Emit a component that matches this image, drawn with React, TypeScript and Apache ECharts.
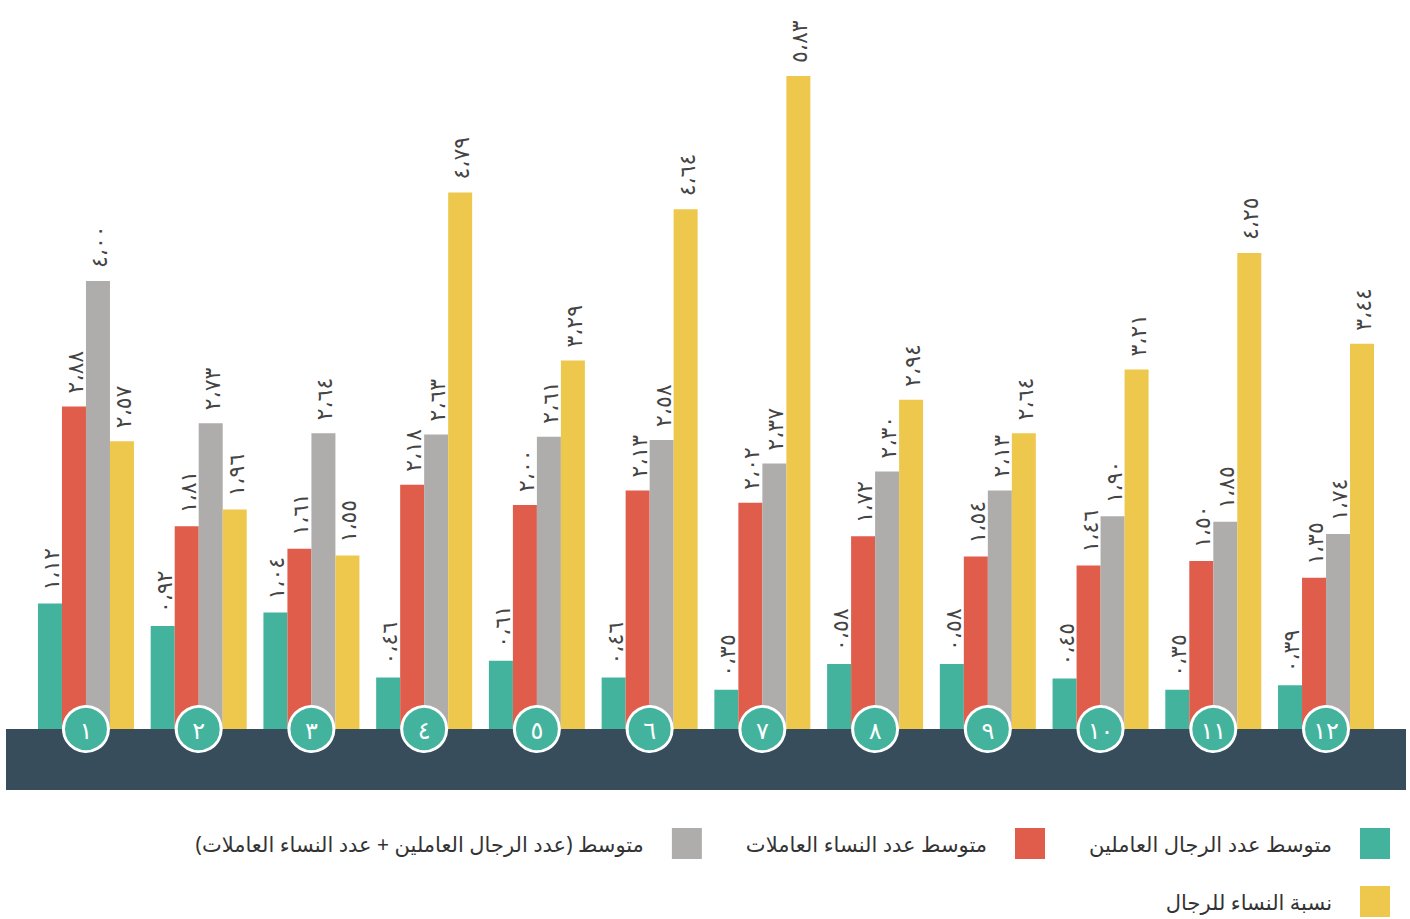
import React, { useEffect, useRef } from "react";
import * as echarts from "echarts";

const categories = ["١", "٢", "٣", "٤", "٥", "٦", "٧", "٨", "٩", "١٠", "١١", "١٢"];
const menAvg = [1.12, 0.92, 1.04, 0.46, 0.61, 0.46, 0.35, 0.58, 0.58, 0.45, 0.35, 0.39];
const womenAvg = [2.88, 1.81, 1.61, 2.18, 2.0, 2.13, 2.02, 1.72, 1.54, 1.46, 1.5, 1.35];
const totalAvg = [4.0, 2.73, 2.64, 2.63, 2.61, 2.58, 2.37, 2.3, 2.13, 1.9, 1.85, 1.74];
const ratio = [2.57, 1.96, 1.55, 4.79, 3.29, 4.64, 5.83, 2.94, 2.64, 3.21, 4.25, 3.44];

const seriesNames = [
  "متوسط عدد الرجال العاملين",
  "متوسط عدد النساء العاملات",
  "\u200Fمتوسط (عدد الرجال العاملين + عدد النساء العاملات)\u200F",
  "نسبة النساء للرجال",
];
const colors = ["#44b39d", "#e05c4b", "#aeadab", "#eec84d"];

const arDigits = "٠١٢٣٤٥٦٧٨٩";
const toArabic = (v: number) =>
  v
    .toFixed(2)
    .replace(".", "،")
    .replace(/[0-9]/g, (d) => arDigits[Number(d)]);

const FONT = "'Noto Sans', 'DejaVu Sans', sans-serif";

export default function App() {
  const ref = useRef<HTMLDivElement>(null);
  useEffect(() => {
    if (!ref.current) return;
    const chart = echarts.init(ref.current, undefined, { renderer: "svg" });
    const data = [menAvg, womenAvg, totalAvg, ratio];
    const barSeries = data.map((vals, i) => ({
      name: seriesNames[i],
      type: "bar",
      data: vals,
      barWidth: 24,
      barGap: "0%",
      z: 2,
      itemStyle: { color: colors[i] },
      label: {
        show: true,
        position: "top",
        rotate: 90,
        align: "left",
        verticalAlign: "middle",
        distance: 13,
        color: "#444",
        fontSize: 22,
        fontFamily: FONT,
        formatter: (p: any) => toArabic(p.value),
      },
    }));
    const legendText = {
      fontSize: 21,
      color: "#333",
      fontFamily: FONT,
      padding: [0, 23, 0, 0],
    };
    chart.setOption({
      animation: false,
      textStyle: { fontFamily: FONT },
      grid: { left: 29.6, right: 27.6, top: 57, bottom: 190 },
      xAxis: {
        type: "category",
        data: categories,
        axisLine: { show: false },
        axisTick: { show: false },
        axisLabel: { show: false },
      },
      yAxis: {
        type: "value",
        min: 0,
        max: 6,
        show: false,
        splitLine: { show: false },
      },
      legend: [
        {
          data: [seriesNames[2], seriesNames[1], seriesNames[0]],
          right: 15,
          top: 823,
          align: "right",
          itemWidth: 30,
          itemHeight: 31,
          itemGap: 44,
          icon: "rect",
          textStyle: legendText,
        },
        {
          data: [seriesNames[3]],
          right: 15,
          top: 881,
          align: "right",
          itemWidth: 30,
          itemHeight: 31,
          icon: "rect",
          textStyle: legendText,
        },
      ],
      graphic: [
        {
          type: "rect",
          z: 1,
          shape: { x: 6, y: 729, width: 1400, height: 61 },
          style: { fill: "#374d5c" },
        },
      ],
      series: [
        ...barSeries,
        {
          type: "scatter",
          data: categories.map(() => 0),
          symbol: "circle",
          symbolSize: 45,
          clip: false,
          z: 10,
          silent: true,
          itemStyle: { color: "#44b39d", borderColor: "#ffffff", borderWidth: 3, opacity: 1 },
          label: {
            show: true,
            position: "inside",
            color: "#ffffff",
            fontSize: 24,
            fontFamily: FONT,
            formatter: (p: any) => categories[p.dataIndex],
          },
        },
      ],
    });
    return () => chart.dispose();
  }, []);
  return (
    <div
      ref={ref}
      style={{ position: "absolute", left: 0, top: 0, width: 1410, height: 919 }}
    />
  );
}
